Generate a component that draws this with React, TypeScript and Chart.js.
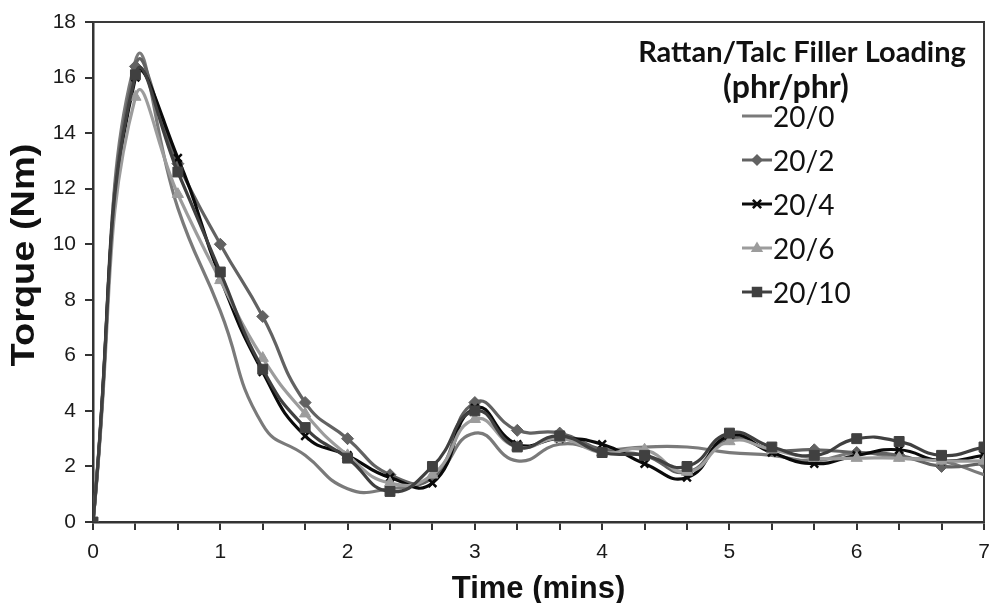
import React, { useEffect, useRef } from 'react';
import { Chart, registerables } from 'chart.js';

Chart.register(...registerables);

// ---- Data ----
const times = [0, 0.3333, 0.6667, 1, 1.3333, 1.6667, 2, 2.3333, 2.6667, 3, 3.3333, 3.6667, 4, 4.3333, 4.6667, 5, 5.3333, 5.6667, 6, 6.3333, 6.6667, 7];
const xTickValues = [0, 0.3333, 0.6667, 1, 1.3333, 1.6667, 2, 2.3333, 2.6667, 3, 3.3333, 3.6667, 4, 4.3333, 4.6667, 5, 5.3333, 5.6667, 6, 6.3333, 6.6667, 7];
const xLabelValues = [0, 1, 2, 3, 4, 5, 6, 7];
const yTickValues = [0, 2, 4, 6, 8, 10, 12, 14, 16, 18];

const seriesNames = ['20/0', '20/2', '20/4', '20/6', '20/10'];
const s20_0 = [0, 16.6, 11.3, 7.6, 3.5, 2.4, 1.2, 1.2, 1.6, 3.2, 2.2, 2.8, 2.6, 2.7, 2.7, 2.5, 2.4, 2.2, 2.5, 2.3, 2.2, 1.7];
const s20_2 = [0, 16.4, 12.9, 10.0, 7.4, 4.3, 3.0, 1.7, 1.6, 4.3, 3.3, 3.2, 2.6, 2.4, 1.8, 3.0, 2.6, 2.6, 2.5, 2.4, 2.0, 2.1];
const s20_4 = [0, 16.0, 13.1, 8.8, 5.4, 3.1, 2.4, 1.6, 1.4, 4.1, 2.8, 3.0, 2.8, 2.1, 1.6, 3.1, 2.5, 2.1, 2.4, 2.6, 2.2, 2.4];
const s20_6 = [0, 15.3, 11.8, 8.7, 5.9, 3.9, 2.4, 1.4, 1.7, 3.7, 2.7, 3.0, 2.5, 2.6, 1.8, 2.9, 2.6, 2.3, 2.3, 2.3, 2.2, 2.2];
const s20_10 = [0, 16.1, 12.6, 9.0, 5.5, 3.4, 2.3, 1.1, 2.0, 4.0, 2.7, 3.1, 2.5, 2.4, 2.0, 3.2, 2.7, 2.4, 3.0, 2.9, 2.4, 2.7];

const legendTitle1 = 'Rattan/Talc Filler Loading';
const legendTitle2 = '(phr/phr)';
const xTitle = 'Time (mins)';
const yTitle = 'Torque (Nm)';

// ---- Styles ----
const seriesStyles = [
  { color: '#7a7a7a', point: 'circle', radius: 0, pw: 1 },
  { color: '#626262', point: 'rectRot', radius: 6, pw: 1 },
  { color: '#0a0a0a', point: 'crossRot', radius: 5.5, pw: 2.5 },
  { color: '#9c9c9c', point: 'triangle', radius: 6.5, pw: 1 },
  { color: '#404040', point: 'rect', radius: 7, pw: 1 },
];

function drawMarker(ctx: CanvasRenderingContext2D, kind: string, x: number, y: number, r: number, color: string, pw: number) {
  ctx.save();
  ctx.fillStyle = color;
  ctx.strokeStyle = color;
  ctx.lineWidth = pw;
  ctx.beginPath();
  if (kind === 'rectRot') {
    ctx.moveTo(x, y - r); ctx.lineTo(x + r, y); ctx.lineTo(x, y + r); ctx.lineTo(x - r, y); ctx.closePath(); ctx.fill();
  } else if (kind === 'crossRot') {
    const d = r * 0.75;
    ctx.moveTo(x - d, y - d); ctx.lineTo(x + d, y + d); ctx.moveTo(x + d, y - d); ctx.lineTo(x - d, y + d); ctx.stroke();
  } else if (kind === 'triangle') {
    ctx.moveTo(x, y - r); ctx.lineTo(x + r * 0.95, y + r * 0.6); ctx.lineTo(x - r * 0.95, y + r * 0.6); ctx.closePath(); ctx.fill();
  } else if (kind === 'rect') {
    const d = r * 0.75;
    ctx.rect(x - d, y - d, 2 * d, 2 * d); ctx.fill();
  }
  ctx.restore();
}

const overlayPlugin = {
  id: 'overlay',
  beforeDatasetsDraw(chart: any) {
    const { ctx, chartArea } = chart;
    ctx.save();
    ctx.strokeStyle = '#3a3a3a';
    ctx.lineWidth = 2;
    ctx.beginPath();
    ctx.moveTo(chartArea.left, chartArea.top);
    ctx.lineTo(chartArea.right, chartArea.top);
    ctx.lineTo(chartArea.right, chartArea.bottom);
    ctx.stroke();
    ctx.restore();
  },
  afterDraw(chart: any) {
    const { ctx, chartArea } = chart;
    ctx.save();
    ctx.fillStyle = '#111';
    // x title
    ctx.font = 'bold 31px Arial, sans-serif';
    ctx.textAlign = 'center';
    ctx.textBaseline = 'alphabetic';
    ctx.fillText(xTitle, (chartArea.left + chartArea.right) / 2, 598);
    // y title
    ctx.save();
    ctx.translate(34, 255);
    ctx.rotate(-Math.PI / 2);
    ctx.scale(1.15, 1);
    ctx.font = 'bold 33px Arial, sans-serif';
    ctx.fillText(yTitle, 0, 0);
    ctx.restore();

    // legend
    ctx.font = 'bold 29px Lato, sans-serif';
    ctx.textAlign = 'center';
    ctx.fillText(legendTitle1, 802, 62);
    ctx.font = 'bold 32px Lato, sans-serif';
    ctx.fillText(legendTitle2, 786, 98);
    const baselines = [127, 171, 215, 259, 303];
    ctx.font = '28px Lato, sans-serif';
    ctx.textAlign = 'left';
    seriesNames.forEach((name, i) => {
      const st = seriesStyles[i];
      const b = baselines[i];
      const ly = b - 11;
      ctx.save();
      ctx.strokeStyle = st.color;
      ctx.lineWidth = 3;
      ctx.beginPath();
      ctx.moveTo(742, ly);
      ctx.lineTo(772, ly);
      ctx.stroke();
      ctx.restore();
      if (st.radius > 0) drawMarker(ctx, st.point, 757, ly, st.radius, st.color, st.pw);
      ctx.fillStyle = '#111';
      ctx.fillText(name, 773, b);
    });
    ctx.restore();
  },
};

export default function App() {
  const ref = useRef<HTMLCanvasElement>(null);
  useEffect(() => {
    document.body.style.margin = '0';
    const canvas = ref.current!;
    const allSeries = [s20_0, s20_2, s20_4, s20_6, s20_10];
    const datasets = allSeries.map((vals, i) => {
      const st = seriesStyles[i];
      return {
        label: seriesNames[i],
        data: times.map((t, k) => ({ x: t, y: vals[k] })),
        borderColor: st.color,
        backgroundColor: st.color,
        borderWidth: 3.2,
        pointStyle: st.point as any,
        pointRadius: st.radius,
        pointBorderWidth: st.pw,
        pointBackgroundColor: st.color,
        pointBorderColor: st.color,
        tension: 0.5,
        order: 5 - i,
      };
    });
    const chart = new Chart(canvas, {
      type: 'line',
      data: { datasets },
      plugins: [overlayPlugin],
      options: {
        animation: false,
        responsive: false,
        maintainAspectRatio: false,
        layout: { padding: { left: 0, top: 22, right: 3, bottom: 0 } },
        plugins: { legend: { display: false }, tooltip: { enabled: false }, title: { display: false } },
        scales: {
          x: {
            type: 'linear',
            min: 0,
            max: 7,
            afterBuildTicks: (scale: any) => {
              scale.ticks = xTickValues.map((v) => ({ value: v }));
            },
            afterFit: (scale: any) => {
              scale.height = 81;
              scale.paddingLeft = 0;
              scale.paddingRight = 0;
            },
            ticks: {
              autoSkip: false,
              maxRotation: 0,
              padding: 10,
              color: '#1a1a1a',
              font: { size: 21 },
              callback: (value: any) => {
                const hit = xLabelValues.find((l) => Math.abs(l - Number(value)) < 0.01);
                return hit === undefined ? '' : String(hit);
              },
            },
            grid: { drawOnChartArea: false, drawTicks: true, tickLength: 8, color: '#333', lineWidth: 2 },
            border: { display: true, color: '#333', width: 2.5 },
          },
          y: {
            type: 'linear',
            min: 0,
            max: 18,
            afterBuildTicks: (scale: any) => {
              scale.ticks = yTickValues.map((v) => ({ value: v }));
            },
            afterFit: (scale: any) => {
              scale.width = 93;
            },
            ticks: {
              padding: 9,
              color: '#1a1a1a',
              font: { size: 21 },
            },
            grid: { drawOnChartArea: false, drawTicks: true, tickLength: 8, color: '#333', lineWidth: 2 },
            border: { display: true, color: '#333', width: 2.5 },
          },
        },
      },
    } as any);
    return () => chart.destroy();
  }, []);
  return (
    <div style={{ width: 992, height: 603, position: 'relative', background: '#fff' }}>
      <canvas ref={ref} width={992} height={603} style={{ width: 992, height: 603, display: 'block' }} />
    </div>
  );
}
